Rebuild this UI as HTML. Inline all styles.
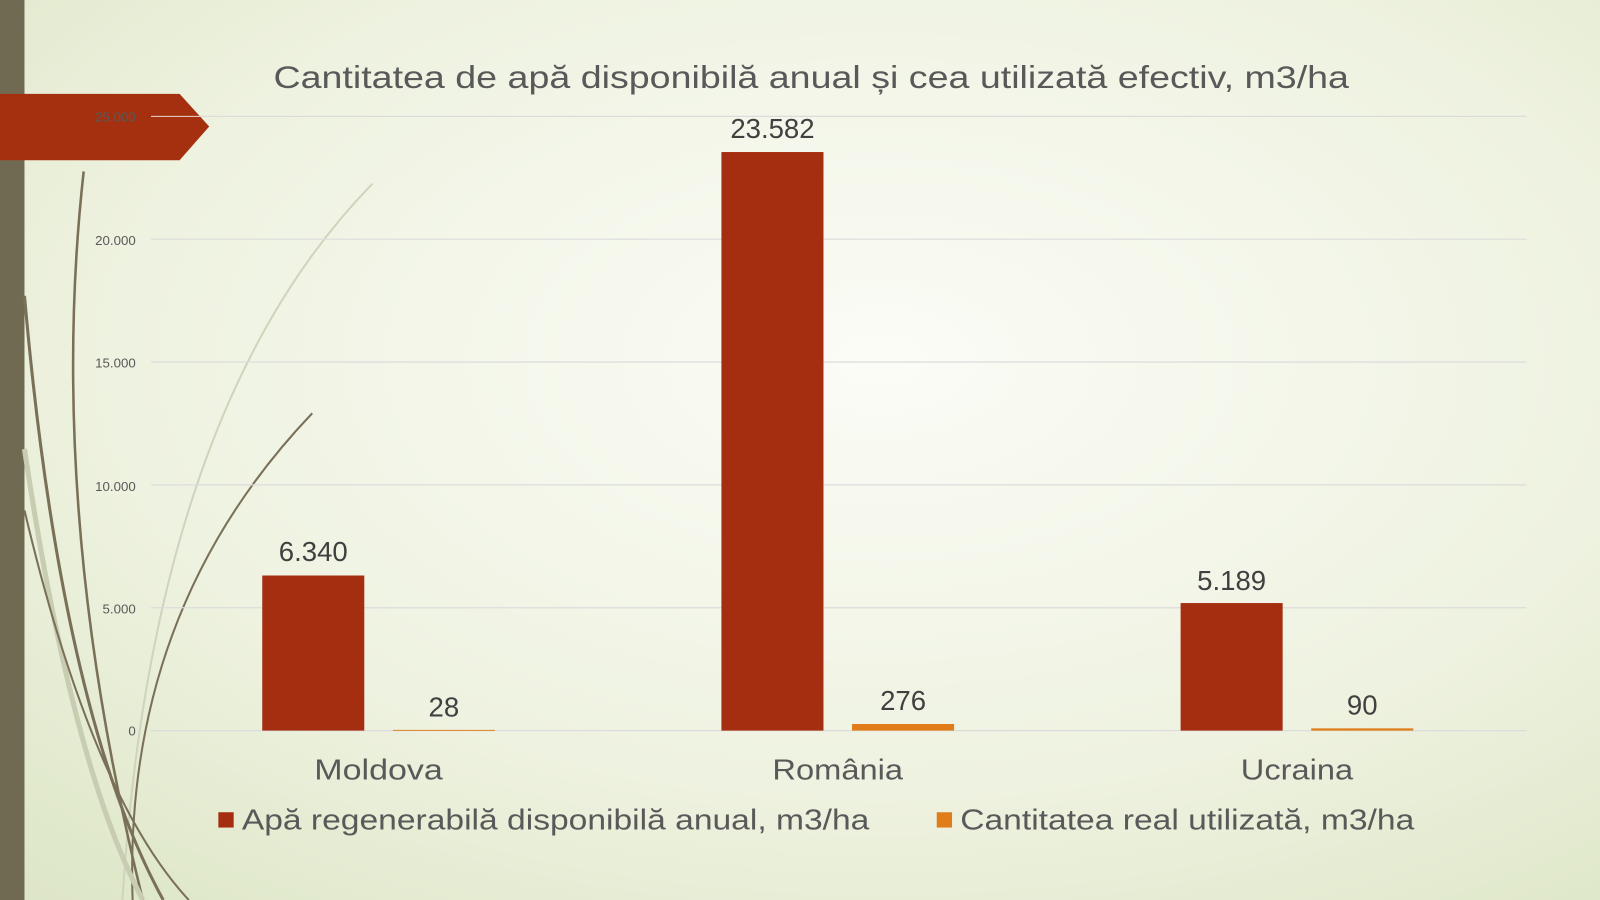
<!DOCTYPE html>
<html><head><meta charset="utf-8"><style>
html,body{margin:0;padding:0;width:1600px;height:900px;overflow:hidden}
svg{display:block}
text{font-family:"Liberation Sans",sans-serif}
</style></head><body>
<svg width="1600" height="900" viewBox="0 0 1568 882" preserveAspectRatio="none">
<defs>
<radialGradient id="bg" cx="0.55" cy="0.4" r="0.8">
<stop offset="0" stop-color="#fbfcf6"/><stop offset="0.6" stop-color="#eef2e0"/><stop offset="1" stop-color="#dde6c6"/>
</radialGradient>
</defs>
<rect width="1568" height="882" fill="url(#bg)"/>
<rect x="0" y="0" width="24" height="882" fill="#716a53"/>
<path d="M365 180 Q150 400 120 882" stroke="#d0d4bc" stroke-width="2" fill="none"/>
<path d="M306 405 Q120 600 130 882" stroke="#7a7058" stroke-width="2" fill="none"/>
<path d="M82 168 Q45 500 140 882" stroke="#7a7058" stroke-width="2.5" fill="none"/>
<path d="M24 290 Q60 700 160 882" stroke="#7a7058" stroke-width="3" fill="none"/>
<path d="M24 440 Q70 750 140 882" stroke="#c8ccb0" stroke-width="5" fill="none"/>
<path d="M24 500 Q90 780 185 882" stroke="#7a7058" stroke-width="2" fill="none"/>
<g stroke="#dcdcdc" stroke-width="1.2">
<line x1="148" y1="114" x2="1496" y2="114"/>
<line x1="148" y1="234.4" x2="1496" y2="234.4"/>
<line x1="148" y1="354.8" x2="1496" y2="354.8"/>
<line x1="148" y1="475.2" x2="1496" y2="475.2"/>
<line x1="148" y1="595.6" x2="1496" y2="595.6"/>
<line x1="148" y1="716" x2="1496" y2="716"/>
</g>
<polygon points="0,92 176,92 205,124 176,157 0,157" fill="#a53010"/>
<line x1="148" y1="114" x2="200" y2="114" stroke="#e8d8d0" stroke-width="1"/>
<g font-size="13" fill="#595959" text-anchor="end">
<text x="133" y="119">25.000</text>
<text x="133" y="240">20.000</text>
<text x="133" y="360">15.000</text>
<text x="133" y="481">10.000</text>
<text x="133" y="601">5.000</text>
<text x="133" y="721">0</text>
</g>
<text x="268" y="86" font-size="31" fill="#595959" textLength="1054" lengthAdjust="spacingAndGlyphs">Cantitatea de apă disponibilă anual și cea utilizată efectiv, m3/ha</text>
<g fill="#a52d10">
<rect x="257" y="564" width="100" height="152"/>
<rect x="707" y="149" width="100" height="567"/>
<rect x="1157" y="591" width="100" height="125"/>
</g>
<g fill="#e07c1a">
<rect x="385" y="715.3" width="100" height="0.9"/>
<rect x="835" y="709.5" width="100" height="6.5"/>
<rect x="1285" y="713.8" width="100" height="2.2"/>
</g>
<g font-size="27" fill="#404040" text-anchor="middle">
<text x="307" y="550">6.340</text>
<text x="757" y="135">23.582</text>
<text x="1207" y="578">5.189</text>
<text x="435" y="702">28</text>
<text x="885" y="696">276</text>
<text x="1335" y="700">90</text>
</g>
<g font-size="28" fill="#595959">
<text x="308" y="764" textLength="126" lengthAdjust="spacingAndGlyphs">Moldova</text>
<text x="757" y="764" textLength="128" lengthAdjust="spacingAndGlyphs">România</text>
<text x="1216" y="764" textLength="110" lengthAdjust="spacingAndGlyphs">Ucraina</text>
</g>
<rect x="214" y="796" width="15" height="15" fill="#a52d10"/>
<text x="237" y="813" font-size="28" fill="#595959" textLength="615" lengthAdjust="spacingAndGlyphs">Apă regenerabilă disponibilă anual, m3/ha</text>
<rect x="918" y="796" width="15" height="15" fill="#e07c1a"/>
<text x="941" y="813" font-size="28" fill="#595959" textLength="445" lengthAdjust="spacingAndGlyphs">Cantitatea real utilizată, m3/ha</text>
</svg>
</body></html>
